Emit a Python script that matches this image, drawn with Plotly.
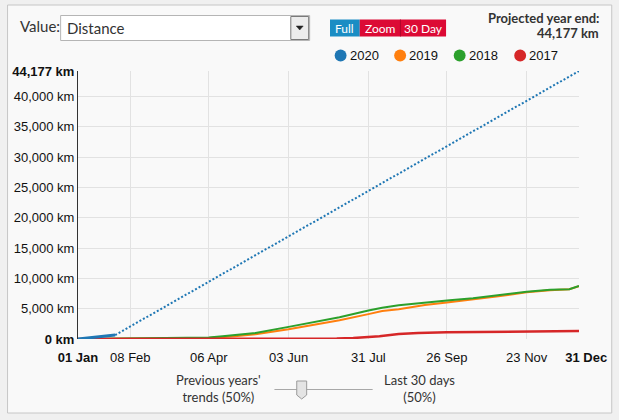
import plotly.graph_objects as go

# ---------------- data ----------------
dates_2020 = ["2019-01-01", "2019-01-10", "2019-01-20", "2019-01-28"]
km_2020 = [0, 220, 420, 650]

proj_dates = ["2019-01-28", "2019-12-31"]
proj_km = [650, 44177]

dates_2019 = ["2019-01-01", "2019-02-08", "2019-03-10", "2019-04-06", "2019-04-25", "2019-05-10",
              "2019-06-03", "2019-06-20", "2019-07-10", "2019-07-31", "2019-08-10", "2019-08-22",
              "2019-09-10", "2019-09-26", "2019-10-15", "2019-11-01", "2019-11-23", "2019-12-10",
              "2019-12-24", "2019-12-31"]
km_2019 = [0, 30, 80, 150, 450, 800, 1600, 2300, 3100, 4100, 4600, 4900,
           5600, 6000, 6500, 7000, 7700, 8050, 8200, 8700]

dates_2018 = ["2019-01-01", "2019-02-08", "2019-03-10", "2019-04-06", "2019-04-16", "2019-05-10",
              "2019-06-03", "2019-06-20", "2019-07-10", "2019-07-31", "2019-08-10", "2019-08-22",
              "2019-09-10", "2019-09-28", "2019-10-15", "2019-11-01", "2019-11-23", "2019-12-10",
              "2019-12-24", "2019-12-31"]
km_2018 = [0, 80, 150, 250, 450, 1000, 2000, 2700, 3600, 4700, 5150, 5550,
           6000, 6400, 6700, 7200, 7800, 8100, 8200, 8750]

dates_2017 = ["2019-01-01", "2019-06-20", "2019-07-08", "2019-07-20", "2019-08-01", "2019-08-08",
              "2019-08-22", "2019-09-05", "2019-09-26", "2019-10-20", "2019-11-20", "2019-12-31"]
km_2017 = [0, 0, 80, 160, 320, 450, 820, 1000, 1100, 1150, 1200, 1300]

year_labels = ["2020", "2019", "2018", "2017"]
year_colors = ["#1f77b4", "#ff7f0e", "#2ca02c", "#d62728"]

x_tickvals = ["2019-01-01", "2019-02-08", "2019-04-06", "2019-06-03", "2019-07-31",
              "2019-09-26", "2019-11-23", "2019-12-31"]
x_ticktext = ["<b>01 Jan</b>", "08 Feb", "06 Apr", "03 Jun", "31 Jul",
              "26 Sep", "23 Nov", "\u00a0\u00a0\u00a0\u00a0<b>31 Dec</b>"]
y_tickvals = [0, 5000, 10000, 15000, 20000, 25000, 30000, 35000, 40000, 44177]
y_ticktext = ["<b>0 km</b>", "5,000 km", "10,000 km", "15,000 km", "20,000 km", "25,000 km",
              "30,000 km", "35,000 km", "40,000 km", "<b>44,177 km</b>"]

projected_text = "44,177 km"

# ---------------- layout helpers ----------------
W, H = 619, 420
L, R, T, B = 76, 581, 71, 339


def X(px):
    return (px - L) / (R - L)


def Y(py):
    return (B - py) / (B - T)


fig = go.Figure()

fig.add_trace(go.Scatter(x=dates_2019, y=km_2019, mode="lines",
                         line=dict(color=year_colors[1], width=2), hoverinfo="skip"))
fig.add_trace(go.Scatter(x=dates_2018, y=km_2018, mode="lines",
                         line=dict(color=year_colors[2], width=2), hoverinfo="skip"))
fig.add_trace(go.Scatter(x=dates_2017, y=km_2017, mode="lines",
                         line=dict(color=year_colors[3], width=2.5), hoverinfo="skip"))
fig.add_trace(go.Scatter(x=proj_dates, y=proj_km, mode="lines",
                         line=dict(color=year_colors[0], width=2, dash="2px,2px"), hoverinfo="skip"))
fig.add_trace(go.Scatter(x=dates_2020, y=km_2020, mode="lines",
                         line=dict(color=year_colors[0], width=3), hoverinfo="skip"))

shapes = []
# panel
shapes.append(dict(type="rect", xref="paper", yref="paper", layer="below",
                   x0=X(5), x1=X(614), y0=Y(413), y1=Y(5),
                   fillcolor="#f9f9f9", line=dict(color="#c6c6c6", width=1)))
# dropdown
shapes.append(dict(type="rect", xref="paper", yref="paper",
                   x0=X(58.5), x1=X(309.5), y0=Y(40.5), y1=Y(15.5),
                   fillcolor="#ffffff", line=dict(color="#b5b5b5", width=1)))
shapes.append(dict(type="rect", xref="paper", yref="paper",
                   x0=X(290.5), x1=X(308.5), y0=Y(39.5), y1=Y(16.5),
                   fillcolor="#ececec", line=dict(color="#7a7a7a", width=1)))
shapes.append(dict(type="path", xref="paper", yref="paper",
                   path=f"M {X(296)} {Y(26)} L {X(303)} {Y(26)} L {X(299.5)} {Y(30)} Z",
                   fillcolor="#222222", line=dict(color="#222222", width=0.5)))
# buttons
shapes.append(dict(type="rect", xref="paper", yref="paper",
                   x0=X(330), x1=X(360), y0=Y(36.5), y1=Y(19.5),
                   fillcolor="#1a8dc4", line=dict(width=0)))
shapes.append(dict(type="rect", xref="paper", yref="paper",
                   x0=X(360), x1=X(401), y0=Y(36.5), y1=Y(19.5),
                   fillcolor="#dc0a35", line=dict(width=0)))
shapes.append(dict(type="rect", xref="paper", yref="paper",
                   x0=X(401), x1=X(447), y0=Y(36.5), y1=Y(19.5),
                   fillcolor="#dc0a35", line=dict(width=0)))
shapes.append(dict(type="line", xref="paper", yref="paper",
                   x0=X(401), x1=X(401), y0=Y(36.5), y1=Y(19.5),
                   line=dict(color="#b00028", width=1)))
# legend circles
legend_cx = [340.7, 400.7, 460.7, 521.7]
for cx, col in zip(legend_cx, year_colors):
    shapes.append(dict(type="circle", xref="paper", yref="paper",
                       x0=X(cx - 6), x1=X(cx + 6), y0=Y(61.5), y1=Y(49.5),
                       fillcolor=col, line=dict(width=0)))
# slider
shapes.append(dict(type="line", xref="paper", yref="paper",
                   x0=X(274), x1=X(373), y0=Y(389.5), y1=Y(389.5),
                   line=dict(color="#a8a8a8", width=1)))
shapes.append(dict(type="path", xref="paper", yref="paper",
                   path=(f"M {X(296.5)} {Y(381)} L {X(306.5)} {Y(381)} L {X(306.5)} {Y(395)} "
                         f"L {X(301.5)} {Y(399)} L {X(296.5)} {Y(395)} Z"),
                   fillcolor="#e4e4e4", line=dict(color="#9a9a9a", width=1)))

ann = []
UI = "Lato"
ann.append(dict(text="Value:", x=X(16), y=Y(26), xanchor="left", yanchor="middle",
                font=dict(family=UI, size=15, color="#333333")))
ann.append(dict(text="Distance", x=X(63), y=Y(28), xanchor="left", yanchor="middle",
                font=dict(family=UI, size=15, color="#333333")))
for label, cx in zip(["Full", "Zoom", "30 Day"], [345, 380.5, 424]):
    ann.append(dict(text=label, x=X(cx), y=Y(28), xanchor="center", yanchor="middle",
                    font=dict(family=UI, size=12, color="#ffffff")))
ann.append(dict(text="<b>Projected year end:</b>", x=X(603), y=Y(18), xanchor="right", yanchor="middle",
                font=dict(family=UI, size=13, color="#333333")))
ann.append(dict(text=f"<b>{projected_text}</b>", x=X(603), y=Y(33), xanchor="right", yanchor="middle",
                font=dict(family=UI, size=13, color="#333333")))
for lab, cx in zip(year_labels, legend_cx):
    ann.append(dict(text=lab, x=X(cx + 7), y=Y(56), xanchor="left", yanchor="middle",
                    font=dict(family="Liberation Sans", size=13, color="#111111")))
ann.append(dict(text="Previous years'<br>trends (50%)", x=X(218), y=Y(388), xanchor="center",
                yanchor="middle", align="center",
                font=dict(family=UI, size=13, color="#333333")))
ann.append(dict(text="Last 30 days<br>(50%)", x=X(420), y=Y(388), xanchor="center",
                yanchor="middle", align="center",
                font=dict(family=UI, size=13, color="#333333")))
for a in ann:
    a.update(xref="paper", yref="paper", showarrow=False)

fig.update_layout(
    width=W, height=H,
    margin=dict(l=L, r=W - R, t=T, b=H - B, pad=0),
    paper_bgcolor="#f0f0f0",
    plot_bgcolor="#f9f9f9",
    showlegend=False,
    shapes=shapes,
    annotations=ann,
    xaxis=dict(type="date", range=["2019-01-01", "2019-12-31"],
               tickmode="array", tickvals=x_tickvals, ticktext=x_ticktext,
               showgrid=True, gridcolor="#e2e2e2", gridwidth=1,
               showline=False, zeroline=False,
               ticks="outside", ticklen=6, tickcolor="rgba(0,0,0,0)",
               tickfont=dict(family="Liberation Sans", size=13, color="#111111")),
    yaxis=dict(range=[0, 44177], tickmode="array", tickvals=y_tickvals, ticktext=y_ticktext,
               showgrid=True, gridcolor="#e2e2e2", gridwidth=1,
               showline=True, linecolor="#333333", linewidth=1, zeroline=False, ticks="",
               tickfont=dict(family="Liberation Sans", size=13, color="#111111")),
)

fig.write_html("out.html", config={"displayModeBar": False},
               post_script="document.body.style.margin='0px';document.body.style.background='#f0f0f0';")
